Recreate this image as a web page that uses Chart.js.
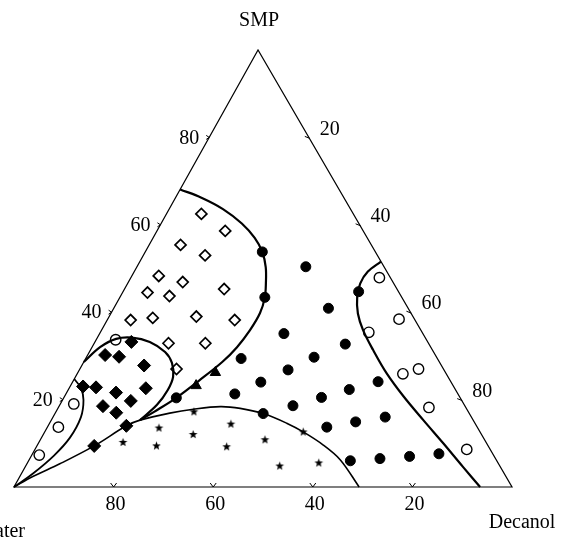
<!DOCTYPE html>
<html>
<head>
<meta charset="utf-8">
<script src="https://cdn.jsdelivr.net/npm/chart.js@4/dist/chart.umd.min.js"></script>
<style>
  body { margin: 0; background: #fff; }
  canvas { display: block; }
</style>
</head>
<body>
<canvas id="ternary" width="561" height="540"></canvas>
<script>
// 数据: [SMP %, Decanol %], Water = 100 - 两者之和
const openDiamonds = [[62.5,7.0],[58.6,13.7],[55.4,6.3],[53.0,12.4],[48.3,5.4],[46.9,10.9],[44.5,5.0],[43.7,9.8],
  [45.3,20.0],[38.2,4.7],[38.7,8.9],[39.0,17.5],[38.2,25.6],[32.9,14.9],[32.9,22.3],[27.0,19.4]];
const filledDiamonds = [[33.2,7.3],[30.2,3.5],[29.8,6.5],[27.8,12.5],[23.0,2.6],[22.8,5.3],[21.6,9.9],[22.6,15.4],
  [18.5,8.8],[19.7,13.8],[17.0,12.2],[14.0,15.7],[9.4,11.5]];
const filledCircles = [[53.8,23.5],[43.4,29.1],[50.4,33.9],[40.9,43.1],[35.1,37.0],[32.7,50.5],[29.4,31.2],[29.7,45.7],
  [26.8,41.9],[24.1,61.3],[24.0,37.8],[22.3,56.4],[21.3,33.9],[20.5,51.7],[16.0,66.7],[18.6,46.9],[16.8,41.8],
  [14.9,61.3],[13.7,56.1],[6.0,64.6],[6.5,70.3],[7.0,76.0],[7.6,81.6],[44.7,47.3],[20.4,22.6]];
const triangles = [[26.2,27.6],[23.2,25.2]];
const stars = [[17.2,27.7],[13.5,22.5],[10.2,16.9],[9.4,24.0],[12.0,30.1],[14.4,36.5],[9.2,38.2],[10.8,45.1],
  [12.6,51.9],[4.8,51.0],[5.5,58.5]];
const openCircles = [[19.0,2.7],[13.7,2.2],[7.3,1.5],[33.7,3.9],[47.9,49.9],[38.4,58.5],[35.4,53.9],[27.0,68.0],
  [25.9,65.4],[18.2,74.4],[8.6,86.7]];

// 相界线
const domeCurve = [[0,0],[2.4,2.6],[5.3,6.6],[9.4,11.5],[14.0,15.7],[15.3,17.8],[16.9,23.0],[17.8,27.3],[18.4,32.4],
  [18.0,36.6],[16.8,41.8],[14.6,47.6],[12.6,51.9],[9.6,57.4],[6.2,62.5],[0,69.3]];
const upperCurve = [[15.3,17.8],[17.2,19.7],[20.4,22.6],[24.3,25.2],[28.6,27.8],[32.0,29.1],[35.9,29.8],[39.8,29.9],
  [43.4,29.1],[46.7,27.7],[50.3,25.9],[53.8,23.5],[57.0,20.4],[60.3,16.2],[63.6,10.8],[66.2,5.2],[68.1,0]];
const loopCurve = [[15.3,17.8],[18.8,19.5],[22.2,20.0],[25.2,19.6],[28.4,17.8],[30.9,15.2],[33.2,11.0],[34.2,6.9],
  [33.9,3.9],[32.0,1.6],[28.6,0]];
const leftCurve = [[24.7,0],[22.7,2.3],[19.9,4.2],[16.0,5.6],[11.3,5.7],[7.2,4.5],[3.1,2.3],[0,0]];
const rightCurve = [[51.6,48.4],[49.3,46.9],[46.6,46.7],[43.5,47.6],[39.7,49.6],[35.9,52.5],[31.4,56.7],[26.0,62.1],
  [20.7,68.1],[15.3,74.7],[10.0,81.3],[4.6,87.9],[0,93.6]];

const tickValues = [20, 40, 60, 80];
const waterTickLabels = ['80', '60', '40', '20'];  // 下边: Water
const smpTickLabels = ['20', '40', '60', '80'];    // 左边: SMP
const decTickLabels = ['20', '40', '60', '80'];    // 右边: Decanol

// 三元坐标 -> 平面坐标 (顶点 SMP 稍偏左)
const APEX_X = 49;
function toXY(p) {
  return { x: p[1] + APEX_X * p[0] / 100, y: p[0] };
}

// 星形标记
const starImg = document.createElement('canvas');
starImg.width = 11; starImg.height = 11;
(function () {
  const c = starImg.getContext('2d');
  c.fillStyle = '#000';
  c.beginPath();
  for (let i = 0; i < 10; i++) {
    const r = i % 2 === 0 ? 4.6 : 1.9;
    const a = -Math.PI / 2 + i * Math.PI / 5;
    const px = 5.5 + r * Math.cos(a), py = 5.5 + r * Math.sin(a);
    if (i === 0) c.moveTo(px, py); else c.lineTo(px, py);
  }
  c.closePath();
  c.fill();
})();

function markers(arr, style, radius, filled, border) {
  return {
    data: arr.map(toXY),
    pointStyle: style,
    pointRadius: radius,
    pointBackgroundColor: filled ? '#000' : '#fff',
    pointBorderColor: '#000',
    pointBorderWidth: border,
    showLine: false,
    clip: false
  };
}
function curve(arr, width) {
  return {
    data: arr.map(toXY),
    showLine: true,
    borderColor: '#000',
    borderWidth: width,
    pointRadius: 0,
    tension: 0.35,
    fill: false,
    clip: false
  };
}

const ternaryFrame = {
  id: 'ternaryFrame',
  beforeDatasetsDraw(chart) {
    const { ctx, scales: { x, y } } = chart;
    const P = (s, d) => { const q = toXY([s, d]); return [x.getPixelForValue(q.x), y.getPixelForValue(q.y)]; };
    const W = P(0, 0), D = P(0, 100), S = P(100, 0);
    ctx.save();
    ctx.strokeStyle = '#000';
    ctx.lineWidth = 1.2;
    ctx.beginPath();
    ctx.moveTo(W[0], W[1]); ctx.lineTo(D[0], D[1]); ctx.lineTo(S[0], S[1]); ctx.closePath();
    ctx.stroke();
    ctx.lineWidth = 1;
    tickValues.forEach(v => {
      let a = P(v, 0);                         // 左边 SMP 刻度
      ctx.beginPath(); ctx.moveTo(a[0] - 3, a[1] - 2); ctx.lineTo(a[0], a[1]); ctx.lineTo(a[0] - 3, a[1] + 2); ctx.stroke();
      a = P(100 - v, v);                       // 右边 Decanol 刻度
      ctx.beginPath(); ctx.moveTo(a[0] - 4, a[1] - 1); ctx.lineTo(a[0] + 1, a[1] + 1); ctx.stroke();
      a = P(0, 100 - v);                       // 下边 Water 刻度
      ctx.beginPath(); ctx.moveTo(a[0] - 3, a[1] - 4); ctx.lineTo(a[0], a[1]); ctx.lineTo(a[0] + 3, a[1] - 4); ctx.stroke();
    });
    ctx.restore();
  },
  afterDraw(chart) {
    const { ctx, scales: { x, y } } = chart;
    const P = (s, d) => { const q = toXY([s, d]); return [x.getPixelForValue(q.x), y.getPixelForValue(q.y)]; };
    ctx.save();
    ctx.fillStyle = '#000';
    ctx.font = '20px "Liberation Serif", "DejaVu Serif", serif';
    ctx.textAlign = 'center';
    ctx.textBaseline = 'middle';
    tickValues.forEach((v, i) => {
      let a = P(v, 0);
      ctx.fillText(smpTickLabels[i], a[0] - 20, a[1] + 1);
      a = P(100 - v, v);
      ctx.fillText(decTickLabels[i], a[0] + 21, a[1] - 8);
      a = P(0, v);
      ctx.fillText(waterTickLabels[i], a[0] + 2, a[1] + 18);
    });
    const W = P(0, 0), D = P(0, 100), S = P(100, 0);
    ctx.fillText('SMP', S[0] + 1, S[1] - 29);
    ctx.textBaseline = 'alphabetic';
    ctx.fillText('Decanol', D[0] + 10, D[1] + 41);
    ctx.textAlign = 'right';
    ctx.fillText('Water', W[0] + 11, W[1] + 50);
    ctx.restore();
  }
};

new Chart(document.getElementById('ternary').getContext('2d'), {
  type: 'scatter',
  data: {
    datasets: [
      curve(domeCurve, 1.6),
      curve(upperCurve, 2.2),
      curve(loopCurve, 2.2),
      curve(leftCurve, 1.8),
      curve(rightCurve, 2.2),
      markers(openDiamonds, 'rectRot', 5.5, false, 1.7),
      markers(filledDiamonds, 'rectRot', 6.5, true, 1),
      markers(filledCircles, 'circle', 5, true, 1),
      markers(triangles, 'triangle', 6, true, 1),
      markers(stars, starImg, 5, true, 0),
      markers(openCircles, 'circle', 5.2, false, 1.4)
    ]
  },
  options: {
    responsive: false,
    animation: false,
    devicePixelRatio: 1,
    layout: { padding: { left: 14, right: 49, top: 50, bottom: 53 } },
    scales: {
      x: { type: 'linear', min: 0, max: 100, display: false },
      y: { type: 'linear', min: 0, max: 100, display: false }
    },
    plugins: { legend: { display: false }, tooltip: { enabled: false } }
  },
  plugins: [ternaryFrame]
});
</script>
</body>
</html>
